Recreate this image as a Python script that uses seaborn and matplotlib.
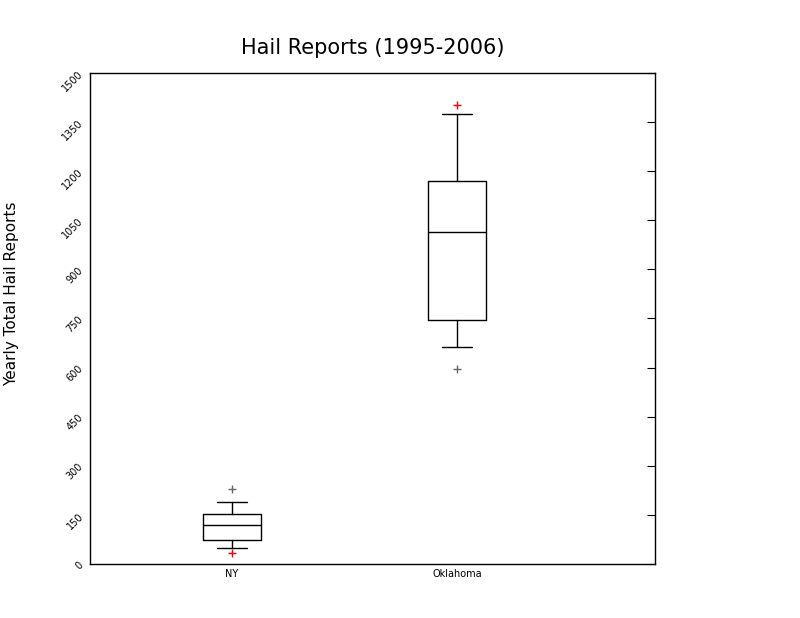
import matplotlib
matplotlib.use("Agg")
import matplotlib.pyplot as plt
import seaborn as sns

sns.set_style("white")
plt.rcParams['font.family'] = ['DejaVu Sans']
plt.rcParams['text.color'] = 'black'
plt.rcParams['axes.labelcolor'] = 'black'
plt.rcParams['xtick.color'] = 'black'
plt.rcParams['ytick.color'] = 'black'

# box statistics
states = ["NY", "Oklahoma"]
q1 = [73, 745]
median = [119, 1014]
q3 = [153, 1170]
whislo = [49, 663]
whishi = [189, 1375]
gray_pts = [229, 596]
red_pts = [34, 1402]

fig = plt.figure(figsize=(8, 6.18), dpi=100)
ax = fig.add_axes([0.1125, 0.0874, 0.7063, 0.7945])

stats = [dict(label=s, q1=a, med=m, q3=b, whislo=lo, whishi=hi, fliers=[])
         for s, a, m, b, lo, hi in zip(states, q1, median, q3, whislo, whishi)]
black = dict(color="black", linewidth=1)
ax.bxp(stats, positions=range(len(states)), widths=0.26, showfliers=False,
       boxprops=black, whiskerprops=black, capprops=black, medianprops=black,
       capwidths=0.13)

ax.plot(range(len(states)), gray_pts, linestyle="none", marker="+", color="#666666", markersize=6)
ax.plot(range(len(states)), red_pts, linestyle="none", marker="+", color="red", markersize=6)

ax.set_xlim(-0.631, 1.88)
ax.set_ylim(0, 1500)
ax.set_yticks(range(0, 1501, 150))
ax.set_xticks(range(len(states)))
ax.set_xticklabels(states, fontsize=7)
ax.tick_params(axis="y", direction="in", right=True, labelsize=7, labelrotation=45, length=6)
ax.tick_params(axis="x", direction="in", length=10)
for sp in ax.spines.values():
    sp.set_color("black")
    sp.set_linewidth(1)

ax.set_title("Hail Reports (1995-2006)", fontsize=15, pad=14)
ax.set_ylabel("Yearly Total Hail Reports", fontsize=11)
ax.yaxis.set_label_coords(-0.125, 0.55)

fig.savefig("out.png", dpi=100)
